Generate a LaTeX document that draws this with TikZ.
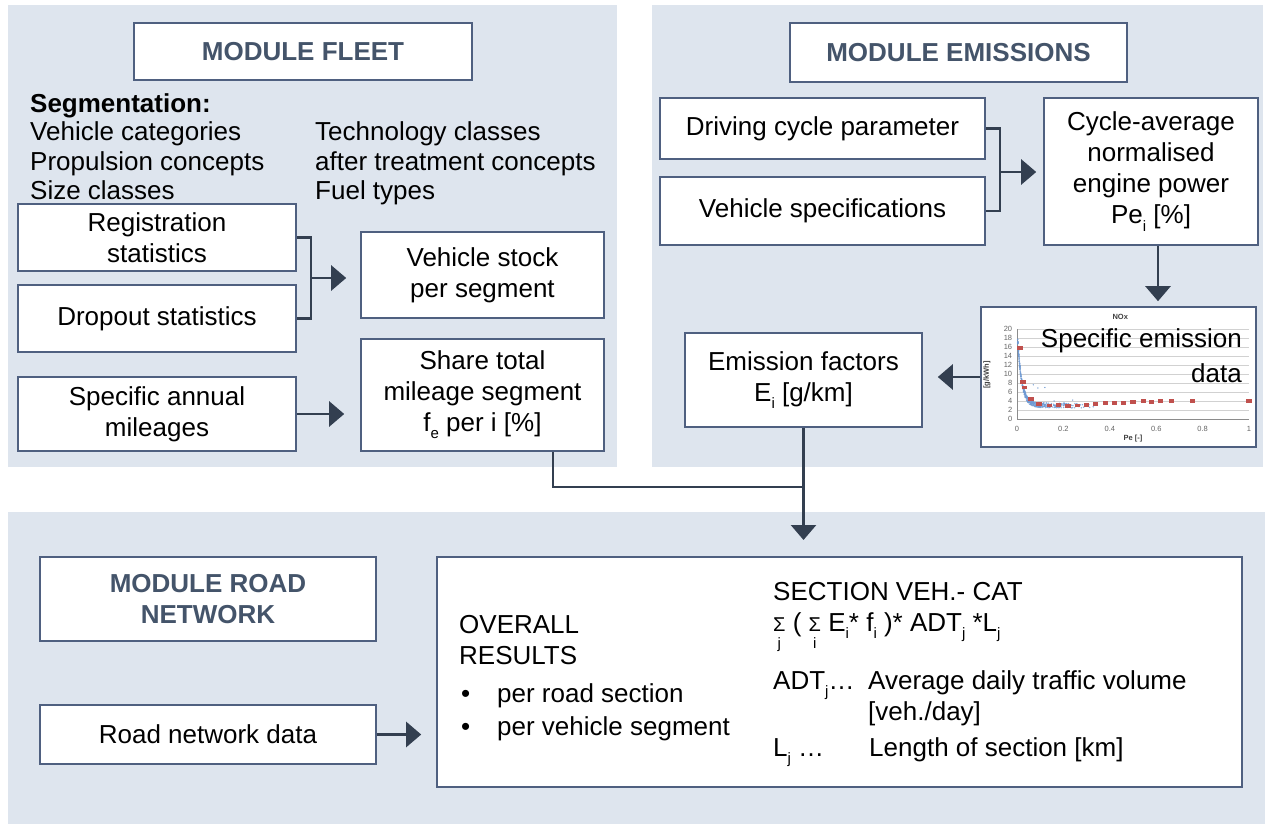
\documentclass[tikz,border=0pt]{standalone}
\usepackage{fontspec}
\setmainfont{Liberation Sans}
\usetikzlibrary{arrows.meta,calc}
\definecolor{panel}{HTML}{DEE5EE}
\definecolor{boxline}{HTML}{4F6080}
\definecolor{titlec}{HTML}{44546A}
\definecolor{arrc}{HTML}{333F50}
\definecolor{redpt}{HTML}{C0504D}
\definecolor{bluept}{HTML}{6F9AD3}
\newcommand{\sub}[1]{\raisebox{-0.28em}{\fontsize{15}{15}\selectfont #1}}
\newcommand{\sumj}[1]{\ooalign{\fontsize{20}{20}\selectfont Σ\cr\hidewidth\raisebox{-17pt}{\fontsize{15}{15}\selectfont #1}\hidewidth\cr}}
\begin{document}
\begin{tikzpicture}[x=1pt,y=-1pt,
  every node/.style={font=\fontsize{26}{31}\selectfont, inner sep=0pt},
  box/.style={draw=boxline, line width=1.6pt, fill=white, align=center},
  ttl/.style={box, text=titlec, font=\fontsize{26}{31}\selectfont\bfseries},
  conn/.style={draw=arrc, line width=2.6pt},
  arr/.style={conn, -{Triangle[length=15pt,width=25pt]}},
  txt/.style={anchor=base west, align=left},
  small/.style={font=\fontsize{7.5}{7.5}\selectfont, text=black!60},
  smallb/.style={font=\fontsize{7.5}{8}\selectfont\bfseries, text=black!75}]
\useasboundingbox (0,0) rectangle (1269,826);
% panels
\fill[panel] (8,5) rectangle (617,467);
\fill[panel] (652,5) rectangle (1263,467);
\fill[panel] (8,512) rectangle (1265,824);

% ---- module fleet
\node[ttl, minimum width=338pt, minimum height=57pt] (fleetT) at (303,51.5) {MODULE FLEET};
\node[txt, font=\fontsize{26}{31}\selectfont\bfseries] (seg) at (30,112.5) {Segmentation:};
\node[txt] (s1) at (30,140.5) {Vehicle categories};
\node[txt] (s2) at (30,170.5) {Propulsion concepts};
\node[txt] (s3) at (30,199.5) {Size classes};
\node[txt] (s4) at (315,140.5) {Technology classes};
\node[txt] (s5) at (315,170.5) {after treatment concepts};
\node[txt] (s6) at (315,199.5) {Fuel types};
\node[box, minimum width=278pt, minimum height=67pt] (reg) at (157,237.5) {Registration\\statistics};
\node[box, minimum width=278pt, minimum height=67pt] (drop) at (157,318.5) {Dropout statistics};
\node[box, minimum width=278pt, minimum height=74pt] (annual) at (157,414) {Specific annual\\mileages};
\node[box, minimum width=243pt, minimum height=86pt] (stock) at (482.5,275) {Vehicle stock\\per segment};
\node[box, minimum width=243pt, minimum height=112pt] (share) at (482.5,395) {Share total\\mileage segment\\f\sub{e} per i [\%]};

% ---- module emissions
\node[ttl, minimum width=337pt, minimum height=59pt] (emisT) at (958.5,52.5) {MODULE EMISSIONS};
\node[box, minimum width=325pt, minimum height=61pt] (drive) at (822.5,128.5) {Driving cycle parameter};
\node[box, minimum width=325pt, minimum height=68pt] (vspec) at (822.5,211) {Vehicle specifications};
\node[box, minimum width=214pt, minimum height=147pt] (cycle) at (1151,171.5) {Cycle-average\\normalised\\engine power\\Pe\sub{i} [\%]};
\node[box, minimum width=275pt, minimum height=140pt] (spec) at (1118.5,377) {};
\node[box, minimum width=237pt, minimum height=94pt] (ef) at (803.5,380) {Emission factors\\E\sub{i} [g/km]};

% chart
\begin{scope}[shift={(1017,419)}, x=232pt, y=4.5pt]
  \foreach \v in {2,4,...,20} \draw[black!18, line width=0.6pt] (0,\v) -- (1,\v);
  \draw[black!45, line width=0.6pt] (0,0) -- (1,0);
  \draw[black!45, line width=0.6pt] (0,0) -- (0,20);
  \foreach \v in {0,2,...,20} \node[small, anchor=east] at (-0.02,\v) {\v};
  \foreach \v/\l in {0/0,0.2/0.2,0.4/0.4,0.6/0.6,0.8/0.8,1/1} \node[small] at (\v,-2.1) {\l};
  \node[smallb] (pelab) at (0.5,-4.3) {Pe [-]};
  \node[smallb] (noxlab) at (0.445,22.7) {NOx};
  \node[smallb, rotate=90] (unitlab) at (-0.13,9.8) {[g/kWh]};
  \pgfmathsetseed{7}
  \foreach \k in {1,...,450}{
    \pgfmathsetmacro\p{0.003+0.34*rnd*rnd}
    \pgfmathsetmacro\q{3+17*exp(-\p/0.018)+1.1*(rnd-0.5)}
    \fill[bluept, opacity=0.8] (\p,\q) circle (0.8pt);
  }
  \foreach \p/\q in {0.09/6.9,0.12/7.0,0.16/4.0,0.07/7.6,0.24/4.2}
    \fill[bluept] (\p,\q) circle (0.7pt);
  \foreach \p/\q in {0.013/15.8,0.026/8.2,0.034/7.0,0.06/4.4,0.095/3.3,0.14/3.0,0.18/3.1,0.22/2.9,0.26/3.0,0.3/3.2,0.34/3.3,0.38/3.6,0.42/3.5,0.46/3.6,0.5/3.8,0.545/4.0,0.58/3.8,0.62/4.0,0.665/4.0,0.755/4.0,1.0/4.0}
    \fill[redpt] (\p,\q) ++(-2.6pt,-1.9pt) rectangle ++(5.2pt,3.8pt);
\end{scope}
\node[anchor=base east] (spectxt) at (1242,348) {Specific emission};
\node[anchor=base east] (spectxtb) at (1242,382) {data};

% ---- module road network
\node[ttl, minimum width=336pt, minimum height=84pt] (roadT) at (208,599) {MODULE ROAD\\NETWORK};
\node[box, minimum width=336pt, minimum height=59pt] (roaddata) at (208,734.5) {Road network data};
\node[box, minimum width=805pt, minimum height=230pt] (results) at (839.5,672) {};
\node[txt] (ov) at (459,633) {OVERALL};
\node[txt] (res) at (459,664) {RESULTS};
\node[txt] (b1) at (459,702) {\makebox[38pt][l]{\hspace{2pt}•}per road section};
\node[txt] (b2) at (459,735) {\makebox[38pt][l]{\hspace{2pt}•}per vehicle segment};
\node[txt] (sec) at (773,600) {SECTION VEH.- CAT};
\node[txt] (form) at (773,631) {\sumj{j} ( \sumj{i} E\sub{i}* f\sub{i} )* ADT\sub{j} *L\sub{j}};
\node[txt] (adt) at (773,689) {ADT\sub{j}…};
\node[txt] (adtd) at (868,689) {Average daily traffic volume};
\node[txt] (veh) at (868,720) {[veh./day]};
\node[txt] (lj) at (773,756) {L\sub{j} …};
\node[txt] (ljd) at (869,756) {Length of section [km]};

% ---- connectors
\coordinate (jf) at (311,278);
\draw[conn] (reg.east) -| (jf) |- (drop.east);
\draw[arr, shorten >=14pt] (jf) -- (jf -| stock.west);
\draw[arr, shorten >=16pt] (annual.east) -- (annual.east -| share.west);
\coordinate (je) at (1000,172);
\draw[conn] (drive.east) -| (je) |- (vspec.east);
\draw[arr, shorten >=7pt] (je) -- (je -| cycle.west);
\draw[arr, shorten >=5pt] ([xshift=7pt]cycle.south) -- ([xshift=7pt]cycle.south |- spec.north);
\draw[arr, shorten >=15pt] (spec.west) -- (spec.west -| ef.east);
\coordinate (jr) at (803.5,487);
\coordinate (rtip) at (803.5,540);
\draw[conn] ([xshift=70.5pt]share.south) |- (jr);
\draw[arr] (ef.south) -- (rtip);
\draw[arr, shorten >=15pt] (roaddata.east) -- (roaddata.east -| results.west);
\end{tikzpicture}
\end{document}
